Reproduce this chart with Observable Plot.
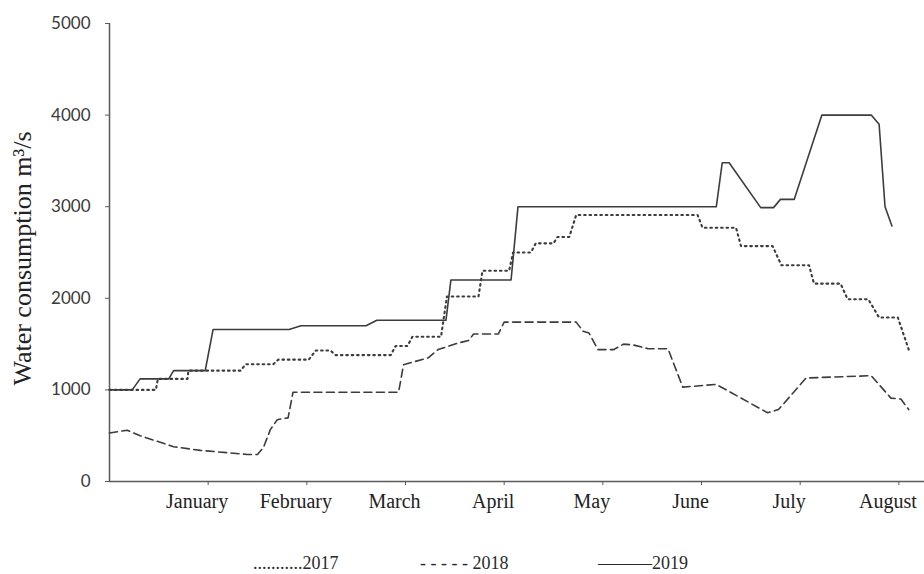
<!DOCTYPE html>
<html>
<head>
<meta charset="utf-8">
<script src="https://cdn.jsdelivr.net/npm/d3@7"></script>
<script src="https://cdn.jsdelivr.net/npm/@observablehq/plot@0.6"></script>
<style>
  html, body { margin: 0; padding: 0; background: #fff; overflow: hidden; }
  #chart svg { display: block; }
  #legend svg { display: block; }
</style>
</head>
<body>
<div id="chart"></div>
<div id="legend"></div>
<script>
// ---- data (x = months since start of December; 1 = January ... 8 = August) ----
const monthNames = ["January", "February", "March", "April", "May", "June", "July", "August"];
const monthTicks = [1, 2, 3, 4, 5, 6, 7, 8];
const yTicks = [0, 1000, 2000, 3000, 4000, 5000];
const yLabel = "Water consumption m\u00B3/s";

const month2017 = [0, 0.47, 0.49, 0.79, 0.80, 1.33, 1.38, 1.66, 1.71, 2.02, 2.09, 2.24, 2.29, 2.85, 2.90, 3.02, 3.07, 3.36, 3.42, 3.74, 3.78, 4.05, 4.09, 4.27, 4.32, 4.50, 4.54, 4.66, 4.73, 5.96, 6.01, 6.35, 6.40, 6.72, 6.81, 7.09, 7.14, 7.41, 7.48, 7.69, 7.80, 7.99, 8.10];
const value2017 = [1000, 1000, 1120, 1120, 1210, 1210, 1280, 1280, 1330, 1330, 1430, 1430, 1380, 1380, 1480, 1480, 1580, 1580, 2020, 2020, 2300, 2300, 2500, 2500, 2600, 2600, 2670, 2670, 2910, 2910, 2770, 2770, 2570, 2570, 2360, 2360, 2160, 2160, 1990, 1990, 1790, 1790, 1440];

const month2018 = [0, 0.18, 0.31, 0.65, 0.92, 1.40, 1.50, 1.56, 1.63, 1.70, 1.81, 1.86, 2.93, 2.98, 3.23, 3.33, 3.53, 3.64, 3.69, 3.94, 4.00, 4.73, 4.80, 4.86, 4.95, 5.11, 5.21, 5.31, 5.46, 5.66, 5.81, 6.15, 6.67, 6.78, 7.06, 7.72, 7.92, 8.02, 8.10];
const value2018 = [530, 560, 500, 380, 340, 295, 295, 370, 566, 675, 695, 975, 975, 1275, 1350, 1440, 1510, 1540, 1610, 1610, 1740, 1740, 1640, 1620, 1440, 1440, 1500, 1490, 1450, 1450, 1030, 1060, 750, 785, 1130, 1155, 910, 900, 785];

const month2019 = [0, 0.23, 0.31, 0.60, 0.65, 0.97, 1.05, 1.82, 1.94, 2.60, 2.71, 3.41, 3.46, 4.07, 4.14, 6.15, 6.21, 6.28, 6.60, 6.73, 6.80, 6.94, 7.22, 7.72, 7.80, 7.86, 7.93];
const value2019 = [1000, 1000, 1120, 1120, 1210, 1210, 1660, 1660, 1700, 1700, 1760, 1760, 2200, 2200, 3000, 3000, 3480, 3480, 2990, 2990, 3080, 3080, 4000, 4000, 3900, 3000, 2790];

const legendItems = [
  {text: "...........2017"},
  {text: "- - - - - 2018"},
  {text: "\u2014\u2014\u20142019"}
];

const toRows = (ms, vs) => ms.map((m, i) => ({month: m, value: vs[i]}));
const d2017 = toRows(month2017, value2017);
const d2018 = toRows(month2018, value2018);
const d2019 = toRows(month2019, value2019);

const lineColor = "#3c3c3c";
const axisColor = "#5a5a5a";

const chart = Plot.plot({
  width: 924,
  height: 520,
  marginLeft: 109,
  marginRight: 0,
  marginTop: 23,
  marginBottom: 39,
  x: {domain: [0, 8.26], axis: null},
  y: {domain: [0, 5000], axis: null},
  marks: [
    Plot.ruleX([0], {y1: 0, y2: 5000, stroke: axisColor, strokeWidth: 1.5}),
    Plot.ruleY([0], {stroke: axisColor, strokeWidth: 1.5}),
    Plot.axisY({ticks: yTicks, tickSize: 4, tickPadding: 15, tickFormat: d => String(d), label: null,
      fontFamily: "Lato", fontSize: 17, color: "#3a3a3a", stroke: axisColor}),
    Plot.axisX({ticks: monthTicks, tickSize: 4, tickFormat: () => "", label: null, stroke: axisColor}),
    Plot.axisX({ticks: monthTicks, tickSize: 0, tickPadding: 12, tickFormat: d => monthNames[d - 1], label: null,
      fontFamily: "Liberation Serif", fontSize: 20, dx: -11, fill: "#222"}),
    Plot.text([yLabel], {text: d => d, frameAnchor: "left", rotate: -90, dx: -87, dy: 6,
      textAnchor: "middle", lineAnchor: "middle", fontFamily: "Liberation Serif", fontSize: 26, fill: "#222"}),
    Plot.line(d2018, {x: "month", y: "value", stroke: lineColor, strokeWidth: 1.6, strokeDasharray: "8,4.5"}),
    Plot.line(d2017, {x: "month", y: "value", stroke: lineColor, strokeWidth: 2.1, strokeDasharray: "1.6,3.8"}),
    Plot.line(d2019, {x: "month", y: "value", stroke: lineColor, strokeWidth: 1.6})
  ]
});
document.getElementById("chart").appendChild(chart);

// legend below the chart
const legendX = [253, 420, 598];
const lsvg = d3.create("svg").attr("width", 924).attr("height", 54);
lsvg.selectAll("text").data(legendItems).join("text")
  .attr("x", (d, i) => legendX[i])
  .attr("y", 49)
  .attr("font-family", "Liberation Serif")
  .attr("font-size", 18)
  .attr("fill", "#2a2a2a")
  .text(d => d.text);
document.getElementById("legend").appendChild(lsvg.node());
</script>
</body>
</html>
